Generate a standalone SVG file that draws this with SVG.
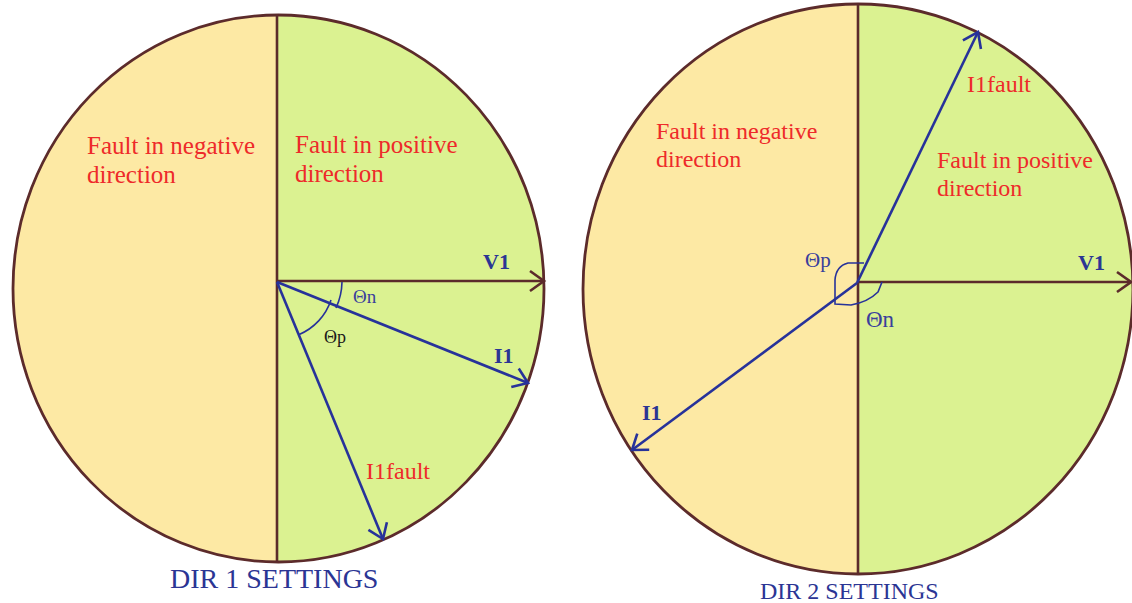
<svg xmlns="http://www.w3.org/2000/svg" width="1132" height="603" viewBox="0 0 1132 603">
<style>
.red{font-family:"Liberation Serif",serif;font-size:24px;fill:#ee2a2a}
.big{font-size:25px}
.lbl{font-family:"Liberation Serif",serif;font-size:22px;font-weight:bold;fill:#2b3594}
.ttl{font-family:"Liberation Serif",serif;fill:#2b3594}
.th{font-family:"Liberation Serif",serif;fill:#3a3f9c}
.axis{stroke:#5c2b2b;stroke-width:2.6;fill:none}
.vec{stroke:#27329a;stroke-width:2.6;fill:none}
.arc{stroke:#27329a;stroke-width:1.6;fill:none}
.rim{stroke:#5c2b2b;stroke-width:2.8;fill:none}
</style>
<defs>
<marker id="ab" markerUnits="userSpaceOnUse" orient="auto" refX="0" refY="0" markerWidth="20" markerHeight="20" overflow="visible">
<path d="M-14,-10 L0,0 L-14,10" fill="none" stroke="#5c2b2b" stroke-width="2.6"/>
</marker>
<marker id="av" markerUnits="userSpaceOnUse" orient="auto" refX="0" refY="0" markerWidth="20" markerHeight="20" overflow="visible">
<path d="M-14,-10 L0,0 L-14,10" fill="none" stroke="#27329a" stroke-width="2.6"/>
</marker>
<clipPath id="c1"><ellipse cx="278.5" cy="288.5" rx="265.5" ry="273.5"/></clipPath>
<clipPath id="c2"><ellipse cx="858" cy="289" rx="275" ry="285"/></clipPath>
</defs>
<rect width="1132" height="603" fill="#ffffff"/>

<g id="dir1">
<g clip-path="url(#c1)">
<rect x="0" y="0" width="277" height="603" fill="#fde9a4"/>
<rect x="277" y="0" width="300" height="603" fill="#dbf291"/>
</g>
<ellipse class="rim" cx="278.5" cy="288.5" rx="265.5" ry="273.5"/>
<text class="red big" x="87" y="154">Fault in negative</text>
<text class="red big" x="87" y="183">direction</text>
<text class="red big" x="295" y="153">Fault in positive</text>
<text class="red big" x="295" y="182">direction</text>
<text class="lbl" x="483" y="269">V1</text>
<text class="lbl" x="494" y="363">I1</text>
<text class="red" x="366" y="479">I1fault</text>
<text class="th" x="353" y="303" font-size="19">Θn</text>
<text x="324" y="343" font-family="Liberation Serif,serif" font-size="18" fill="#1a1a1a">Θp</text>
<text class="ttl" x="170" y="588" font-size="28">DIR 1 SETTINGS</text>
</g>

<g id="dir2">
<g clip-path="url(#c2)">
<rect x="570" y="0" width="288" height="603" fill="#fde9a4"/>
<rect x="858" y="0" width="290" height="603" fill="#dbf291"/>
</g>
<ellipse class="rim" cx="858" cy="289" rx="275" ry="285"/>
<text class="red" x="656" y="139">Fault in negative</text>
<text class="red" x="656" y="167">direction</text>
<text class="red" x="937" y="168">Fault in positive</text>
<text class="red" x="937" y="196">direction</text>
<text class="red" x="967" y="92">I1fault</text>
<text class="lbl" x="1078" y="270">V1</text>
<text class="lbl" x="642" y="420">I1</text>
<text class="th" x="805" y="267" font-size="21">Θp</text>
<text class="th" x="866" y="327" font-size="23">Θn</text>
<text class="ttl" x="760" y="599" font-size="24">DIR 2 SETTINGS</text>
</g>

<g id="connectors">
<line class="axis" x1="277" y1="15" x2="277" y2="562"/>
<line class="axis" x1="277" y1="281" x2="544" y2="281" marker-end="url(#ab)"/>
<line class="vec" x1="277" y1="282" x2="528" y2="383" marker-end="url(#av)"/>
<line class="vec" x1="277" y1="282" x2="383" y2="539" marker-end="url(#av)"/>
<path class="arc" d="M342,282 A65,65 0 0 1 336,308"/>
<path class="arc" d="M331,300 A57,57 0 0 1 298.7,334.7"/>

<line class="axis" x1="858" y1="4" x2="858" y2="574"/>
<line class="axis" x1="858" y1="282" x2="1131" y2="282" marker-end="url(#ab)"/>
<line class="vec" x1="857" y1="283" x2="978" y2="32" marker-end="url(#av)"/>
<line class="vec" x1="857" y1="283" x2="632" y2="450" marker-end="url(#av)"/>
<path class="arc" d="M864,263 L848,263 Q836,266 835,280 L835,304 L851,305 Q868,302 878,292 L882,282"/>
</g>
</svg>
